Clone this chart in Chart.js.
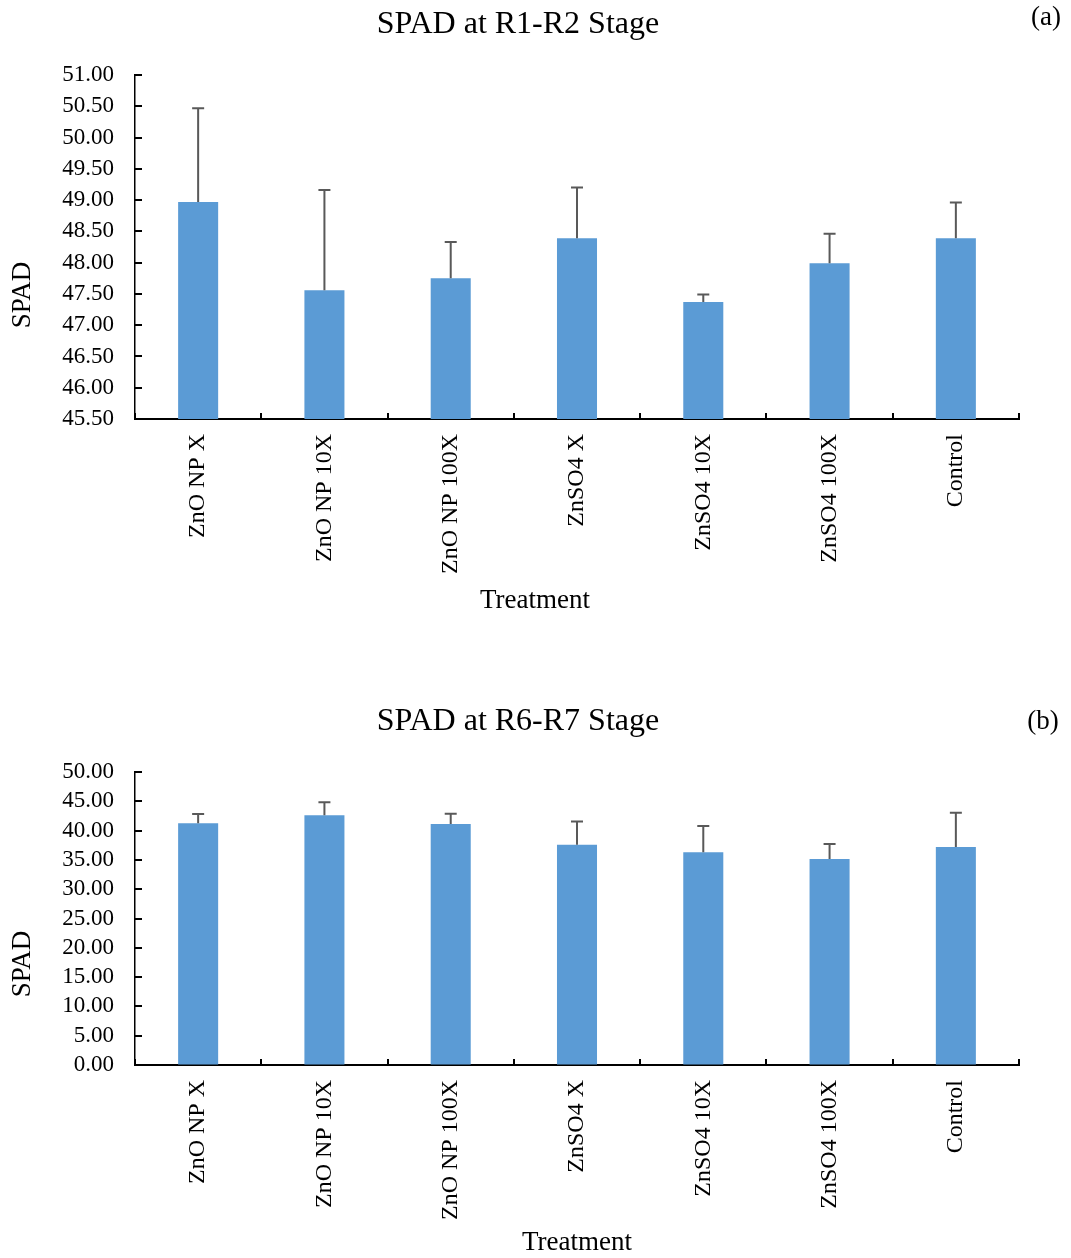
<!DOCTYPE html>
<html><head><meta charset="utf-8">
<script src="https://cdn.jsdelivr.net/npm/chart.js@4.4.1/dist/chart.umd.min.js"></script>
<style>
body{margin:0;background:#fff}
#wrap{position:relative;width:1071px;height:1258px;background:#fff}
canvas{position:absolute;left:0}
</style>
</head><body>
<div id="wrap">
<canvas id="chartA" width="1071" height="640" style="top:0"></canvas>
<canvas id="chartB" width="1071" height="618" style="top:640px"></canvas>
</div>
<script>
// ---- data ----
const categories = ['ZnO NP X','ZnO NP 10X','ZnO NP 100X','ZnSO4 X','ZnSO4 10X','ZnSO4 100X','Control'];
const spadR1R2 = [48.97, 47.56, 47.75, 48.39, 47.37, 47.99, 48.39];
const errR1R2  = [1.50, 1.60, 0.58, 0.81, 0.12, 0.47, 0.57];
const spadR6R7 = [41.25, 42.61, 41.13, 37.60, 36.30, 35.16, 37.21];
const errR6R7  = [1.58, 2.22, 1.76, 3.95, 4.49, 2.56, 5.84];
const yTicksR1R2 = [45.5, 46.0, 46.5, 47.0, 47.5, 48.0, 48.5, 49.0, 49.5, 50.0, 50.5, 51.0];
const yTicksR6R7 = [0, 5, 10, 15, 20, 25, 30, 35, 40, 45, 50];
const titleA = 'SPAD at R1-R2 Stage';
const titleB = 'SPAD at R6-R7 Stage';
const panelA = '(a)';
const panelB = '(b)';
const xTitle = 'Treatment';
const yTitle = 'SPAD';

const FONT = 'Liberation Serif';

const decor = {
  id: 'decor',
  afterDatasetsDraw(chart, args, opts) {
    const ctx = chart.ctx, x = chart.scales.x, y = chart.scales.y;
    const ds = chart.data.datasets[0];
    const meta = chart.getDatasetMeta(0);
    ctx.save();
    // error bars (positive only)
    ctx.strokeStyle = '#595959';
    ctx.lineWidth = 2;
    meta.data.forEach((bar, i) => {
      const yt = y.getPixelForValue(ds.data[i] + opts.errors[i]);
      ctx.beginPath();
      ctx.moveTo(bar.x, bar.y);
      ctx.lineTo(bar.x, yt);
      ctx.moveTo(bar.x - 6, yt);
      ctx.lineTo(bar.x + 6, yt);
      ctx.stroke();
    });
    // inward tick marks
    ctx.strokeStyle = '#000';
    ctx.lineWidth = 2;
    const n = chart.data.labels.length;
    for (let i = 0; i <= n; i++) {
      const px = Math.round(x.getPixelForValue(i - 0.5));
      ctx.beginPath();
      ctx.moveTo(px, y.bottom);
      ctx.lineTo(px, y.bottom - 6);
      ctx.stroke();
    }
    y.ticks.forEach(t => {
      const py = Math.round(y.getPixelForValue(t.value));
      ctx.beginPath();
      ctx.moveTo(x.left, py);
      ctx.lineTo(x.left + 7, py);
      ctx.stroke();
    });
    ctx.restore();
  },
  afterDraw(chart, args, opts) {
    const ctx = chart.ctx;
    ctx.save();
    ctx.fillStyle = '#000';
    ctx.textBaseline = 'middle';
    ctx.textAlign = 'center';
    ctx.font = '32px "' + FONT + '"';
    ctx.fillText(opts.title, opts.titleX, opts.titleY);
    ctx.font = '27px "' + FONT + '"';
    ctx.fillText(opts.panel, opts.panelX, opts.panelY);
    ctx.fillText(opts.xTitle, opts.xTitleX, opts.xTitleY);
    ctx.translate(opts.yTitleX, opts.yTitleY);
    ctx.rotate(-Math.PI / 2);
    ctx.fillText(opts.yTitle, 0, 0);
    ctx.restore();
  }
};

function makeChart(id, values, errors, yTicks, topPad, xHeight, decorOpts) {
  return new Chart(document.getElementById(id), {
    type: 'bar',
    data: {
      labels: categories,
      datasets: [{
        data: values,
        backgroundColor: '#5B9BD5',
        borderWidth: 0,
        barPercentage: 0.317,
        categoryPercentage: 1.0
      }]
    },
    options: {
      responsive: false,
      animation: false,
      devicePixelRatio: 1,
      layout: { padding: { top: topPad, right: 52, left: 0, bottom: 0 } },
      plugins: {
        legend: { display: false },
        tooltip: { enabled: false },
        title: { display: false },
        decor: Object.assign({ errors: errors }, decorOpts)
      },
      scales: {
        x: {
          offset: true,
          grid: { display: true, drawOnChartArea: false, drawTicks: false },
          border: { display: true, color: '#000', width: 2 },
          ticks: {
            autoSkip: false, minRotation: 90, maxRotation: 90, padding: 15,
            color: '#000', font: { family: FONT, size: 24 }
          },
          afterFit(scale) { scale.height = xHeight; }
        },
        y: {
          min: yTicks[0],
          max: yTicks[yTicks.length - 1],
          grid: { display: true, drawOnChartArea: false, drawTicks: false },
          border: { display: true, color: '#000', width: 1.5 },
          ticks: {
            autoSkip: false,
            stepSize: yTicks[1] - yTicks[0],
            padding: 21,
            color: '#000', font: { family: FONT, size: 23 },
            callback: v => Number(v).toFixed(2)
          },
          afterFit(scale) { scale.width = 135; }
        }
      }
    },
    plugins: [decor]
  });
}

makeChart('chartA', spadR1R2, errR1R2, yTicksR1R2, 75, 221, {
  title: titleA, titleX: 518, titleY: 25,
  panel: panelA, panelX: 1046, panelY: 18,
  xTitle: xTitle, xTitleX: 535, xTitleY: 601,
  yTitle: yTitle, yTitleX: 23, yTitleY: 295
});
makeChart('chartB', spadR6R7, errR6R7, yTicksR6R7, 132, 193, {
  title: titleB, titleX: 518, titleY: 82,
  panel: panelB, panelX: 1043, panelY: 82,
  xTitle: xTitle, xTitleX: 577, xTitleY: 603,
  yTitle: yTitle, yTitleX: 23, yTitleY: 324
});
</script>
</body></html>
